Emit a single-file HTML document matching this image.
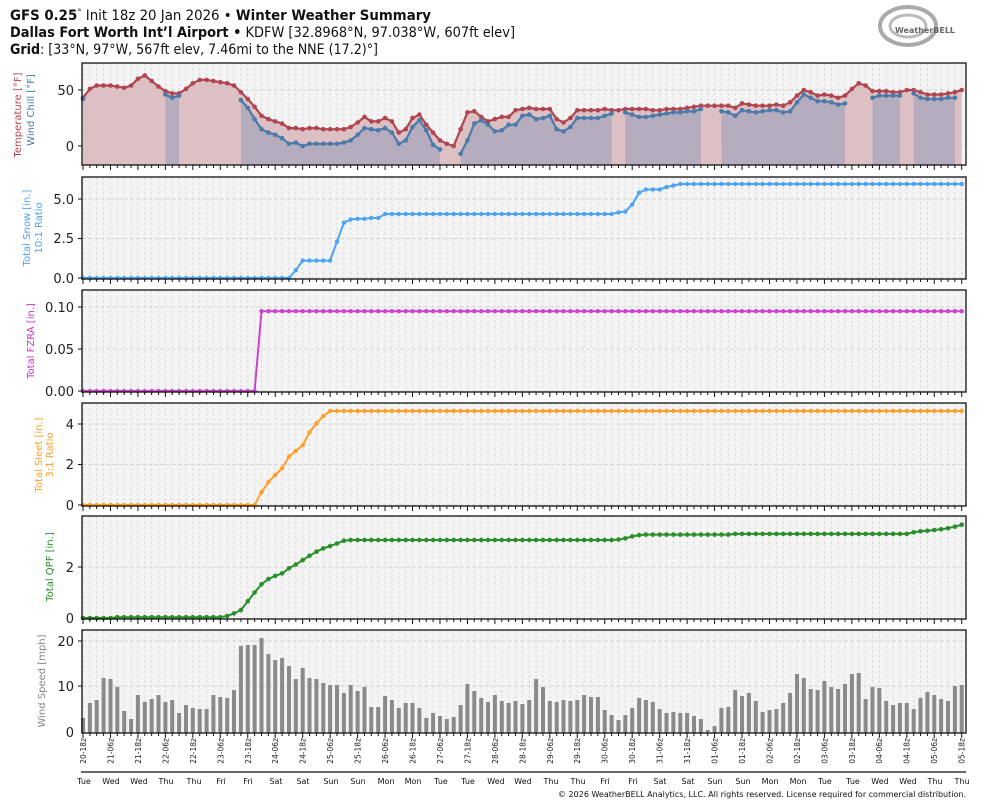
<!DOCTYPE html>
<html><head><meta charset="utf-8"><style>
body{margin:0;background:#fff;}
svg{display:block;font-family:"DejaVu Sans","Liberation Sans",sans-serif;}
</style></head><body>
<svg id="s" width="984" height="808" viewBox="0 0 984 808" xmlns="http://www.w3.org/2000/svg">
<rect width="984" height="808" fill="#fff"/>
<g font-size="14" fill="#111">
<text x="10" y="20" textLength="421" lengthAdjust="spacingAndGlyphs"><tspan font-weight="bold">GFS 0.25</tspan><tspan font-size="9" dy="-5">°</tspan><tspan dy="5"> Init 18z 20 Jan 2026 • </tspan><tspan font-weight="bold">Winter Weather Summary</tspan></text>
<text x="10" y="37" textLength="505" lengthAdjust="spacingAndGlyphs"><tspan font-weight="bold">Dallas Fort Worth Int’l Airport •</tspan> KDFW [32.8968°N, 97.038°W, 607ft elev]</text>
<text x="10" y="54" textLength="368" lengthAdjust="spacingAndGlyphs"><tspan font-weight="bold">Grid</tspan>: [33°N, 97°W, 567ft elev, 7.46mi to the NNE (17.2)°]</text>
</g>
<g>
<ellipse cx="908" cy="26" rx="28" ry="19" fill="none" stroke="#aaa" stroke-width="4"/>
<ellipse cx="908" cy="26" rx="18" ry="11" fill="none" stroke="#bbb" stroke-width="3"/>
<text x="895" y="33" font-size="8" fill="#666" font-weight="bold">WeatherBELL</text>
</g>
<g id="panels"></g>
<g font-size="13" fill="#222" text-anchor="end">
<text x="74" y="95">50</text><text x="74" y="151">0</text>
<text x="74" y="204">5.0</text><text x="74" y="243">2.5</text><text x="74" y="283">0.0</text>
<text x="74" y="312">0.10</text><text x="74" y="354">0.05</text><text x="74" y="396">0.00</text>
<text x="74" y="429">4</text><text x="74" y="469">2</text><text x="74" y="510">0</text>
<text x="74" y="572">2</text><text x="74" y="623">0</text>
<text x="74" y="646">20</text><text x="74" y="691">10</text><text x="74" y="737">0</text>
</g>
<g font-size="10" text-anchor="middle">
<text transform="translate(21,115) rotate(-90)" fill="#b5474f">Temperature [°F]</text>
<text transform="translate(34,110) rotate(-90)" fill="#4a7aaa">Wind Chill [°F]</text>
<text transform="translate(30,228) rotate(-90)" fill="#4da3f5">Total Snow [in.]</text>
<text transform="translate(42,228) rotate(-90)" fill="#4da3f5">10:1 Ratio</text>
<text transform="translate(34,341) rotate(-90)" fill="#cc33cc">Total FZRA [in.]</text>
<text transform="translate(42,455) rotate(-90)" fill="#ff9f2a">Total Sleet [in.]</text>
<text transform="translate(53,455) rotate(-90)" fill="#ff9f2a">3:1 Ratio</text>
<text transform="translate(53,567) rotate(-90)" fill="#2a8f2a">Total QPF [in.]</text>
<text transform="translate(45,681) rotate(-90)" fill="#888">Wind Speed [mph]</text>
</g>
<g id="xl" font-size="7.5" fill="#222" text-anchor="end">
<text transform="translate(86,738) rotate(-90)">20-18z</text>
<text transform="translate(113.5,738) rotate(-90)">21-06z</text>
<text transform="translate(141,738) rotate(-90)">21-18z</text>
<text transform="translate(168.4,738) rotate(-90)">22-06z</text>
<text transform="translate(195.8,738) rotate(-90)">22-18z</text>
<text transform="translate(223.3,738) rotate(-90)">23-06z</text>
<text transform="translate(250.8,738) rotate(-90)">23-18z</text>
<text transform="translate(278.2,738) rotate(-90)">24-06z</text>
<text transform="translate(305.7,738) rotate(-90)">24-18z</text>
<text transform="translate(333.2,738) rotate(-90)">25-06z</text>
<text transform="translate(360.6,738) rotate(-90)">25-18z</text>
<text transform="translate(388,738) rotate(-90)">26-06z</text>
<text transform="translate(415.5,738) rotate(-90)">26-18z</text>
<text transform="translate(443,738) rotate(-90)">27-06z</text>
<text transform="translate(470.4,738) rotate(-90)">27-18z</text>
<text transform="translate(497.9,738) rotate(-90)">28-06z</text>
<text transform="translate(525.3,738) rotate(-90)">28-18z</text>
<text transform="translate(552.8,738) rotate(-90)">29-06z</text>
<text transform="translate(580.2,738) rotate(-90)">29-18z</text>
<text transform="translate(607.7,738) rotate(-90)">30-06z</text>
<text transform="translate(635.1,738) rotate(-90)">30-18z</text>
<text transform="translate(662.6,738) rotate(-90)">31-06z</text>
<text transform="translate(690,738) rotate(-90)">31-18z</text>
<text transform="translate(717.5,738) rotate(-90)">01-06z</text>
<text transform="translate(745,738) rotate(-90)">01-18z</text>
<text transform="translate(772.4,738) rotate(-90)">02-06z</text>
<text transform="translate(799.9,738) rotate(-90)">02-18z</text>
<text transform="translate(827.3,738) rotate(-90)">03-06z</text>
<text transform="translate(854.8,738) rotate(-90)">03-18z</text>
<text transform="translate(882.2,738) rotate(-90)">04-06z</text>
<text transform="translate(909.7,738) rotate(-90)">04-18z</text>
<text transform="translate(937.1,738) rotate(-90)">05-06z</text>
<text transform="translate(964.6,738) rotate(-90)">05-18z</text>
</g>
<line x1="81" y1="772" x2="966" y2="772" stroke="#111" stroke-width="1.2"/>
<g font-size="8" fill="#111" text-anchor="middle">
<text x="84" y="784">Tue</text><text x="111" y="784">Wed</text><text x="139" y="784">Wed</text><text x="166" y="784">Thu</text><text x="194" y="784">Thu</text><text x="221" y="784">Fri</text><text x="248" y="784">Fri</text><text x="276" y="784">Sat</text><text x="303" y="784">Sat</text><text x="331" y="784">Sun</text><text x="358" y="784">Sun</text><text x="386" y="784">Mon</text><text x="413" y="784">Mon</text><text x="441" y="784">Tue</text><text x="468" y="784">Tue</text><text x="496" y="784">Wed</text><text x="523" y="784">Wed</text><text x="551" y="784">Thu</text><text x="578" y="784">Thu</text><text x="605" y="784">Fri</text><text x="633" y="784">Fri</text><text x="660" y="784">Sat</text><text x="688" y="784">Sat</text><text x="715" y="784">Sun</text><text x="743" y="784">Sun</text><text x="770" y="784">Mon</text><text x="798" y="784">Mon</text><text x="825" y="784">Tue</text><text x="853" y="784">Tue</text><text x="880" y="784">Wed</text><text x="908" y="784">Wed</text><text x="935" y="784">Thu</text><text x="962" y="784">Thu</text>
</g>
<text x="966" y="797" font-size="8" fill="#111" text-anchor="end">© 2026 WeatherBELL Analytics, LLC. All rights reserved. License required for commercial distribution.</text>
</svg>
<script>
(function(){
var NS="http://www.w3.org/2000/svg",G=document.getElementById("panels");
function el(t,a){var e=document.createElementNS(NS,t);for(var k in a)e.setAttribute(k,a[k]);G.appendChild(e);return e;}
function X(i){return 83+6.865*i;}
var panels=[[63,165,[90,146]],[177,279,[199,238.5,278]],[290,392,[307,349,391]],[403,506,[424,464.5,505]],[516,619,[567]],[630,733,[641,686]]];
panels.forEach(function(p){
 el("rect",{x:82,y:p[0],width:884,height:p[1]-p[0],fill:"#f4f4f4"});
 for(var i=0;i<=128;i++){el("line",{x1:X(i),y1:p[0],x2:X(i),y2:p[1],stroke:"#dcdcdc","stroke-width":1,"stroke-dasharray":"3,2"});}
 p[2].forEach(function(y){el("line",{x1:82,y1:y,x2:966,y2:y,stroke:"#d6d6d6","stroke-width":1,"stroke-dasharray":"4,2"});});
});
var T=[43,51,54,54,54,53,52,54,60,63,58,53,49,47,47,51,56,59,59,58,57,56,54,48,42,35,27,24,22,20,16,16,15,16,16,15,15,15,15,17,21,26,22,22,25,22,12,15,25,28,19,12,5,2,0,15,30,31,26,22,24,26,26,32,33,34,33,33,33,24,21,25,32,32,32,32,33,32,32,33,33,33,33,32,32,33,33,33,34,35,36,36,36,36,36,34,38,37,36,36,36,37,36,39,45,50,48,45,46,45,43,45,51,56,54,49,49,49,48,48,50,50,48,46,46,46,47,48,50];
var W=new Array(129).fill(null);
function setW(s,a){a.forEach(function(v,k){W[s+k]=v;});}
setW(0,[42]);setW(12,[46,43,45]);
setW(23,[41,34,24,15,12,10,7,2,3,0,2,2,2,2,2,3,5,10,16,15,14,16,12,2,5,17,23,14,1,-3]);
setW(55,[-7,5,20,23,19,13,14,19,19,27,28,24,25,27,15,13,17,25,25,25,25,27,29]);
setW(79,[30,28,26,26,27,28,29,30,30,31,31,33]);
setW(93,[31,30,27,32,31,30,31,32,32,30,31,39,46,43,40,40,39,37,38]);
setW(115,[43,45,45,45,45]);setW(121,[47,43,42,42,42,43,43]);
function ty(v){return 146-1.12*v;}
// temp fill
var d="M"+X(0)+",165";T.forEach(function(v,i){d+=" L"+X(i).toFixed(1)+","+ty(v).toFixed(1);});d+=" L"+X(128)+",165Z";
el("path",{d:d,fill:"#dcc0c4"});
// wc fill segments
var segs=[],cur=null;W.forEach(function(v,i){if(v!==null){if(!cur){cur=[];segs.push(cur);}cur.push(i);}else cur=null;});
segs.forEach(function(s){if(s.length<2)return;var d="M"+X(s[0])+",165";s.forEach(function(i){d+=" L"+X(i).toFixed(1)+","+ty(W[i]).toFixed(1);});d+=" L"+X(s[s.length-1])+",165Z";el("path",{d:d,fill:"#b5acbd"});});
function line(vals,f,col,lw,r){
 var ss=[],c=null;vals.forEach(function(v,i){if(v!==null){if(!c){c=[];ss.push(c);}c.push(i);}else c=null;});
 ss.forEach(function(s){var d="";s.forEach(function(i,k){d+=(k?" L":"M")+X(i).toFixed(1)+","+f(vals[i]).toFixed(1);});el("path",{d:d,fill:"none",stroke:col,"stroke-width":lw,"stroke-linejoin":"round"});});
 vals.forEach(function(v,i){if(v!==null)el("circle",{cx:X(i).toFixed(1),cy:f(v).toFixed(1),r:r,fill:col});});
}
line(T,ty,"#b04550",2.2,2.3);
line(W,ty,"#4a7aaa",2.2,2.3);
// snow
var S=[];for(var i=0;i<129;i++){var v=0;if(i==31)v=.5;else if(i>=32&&i<=36)v=1.1;else if(i==37)v=2.3;else if(i==38)v=3.5;else if(i==39)v=3.7;else if(i<=41&&i>39)v=3.75;else if(i>=42&&i<=43)v=3.8;else if(i>=44&&i<=77)v=4.05;else if(i==78)v=4.15;else if(i==79)v=4.2;else if(i==80)v=4.65;else if(i==81)v=5.4;else if(i>=82&&i<=84)v=5.6;else if(i==85)v=5.75;else if(i==86)v=5.85;else if(i>=87)v=5.95;S.push(v);}
line(S,function(v){return 278-15.8*v;},"#4da3f5",2,2.2);
var F=[];for(i=0;i<129;i++)F.push(i<26?0:0.095);
line(F,function(v){return 391-840*v;},"#cc44cc",2,2.2);
var SL=[.63,1.13,1.48,1.81,2.39,2.67,2.96,3.59,4.03,4.39,4.64];var P=[];for(i=0;i<129;i++)P.push(i<26?0:(i<=36?SL[i-26]:4.64));
line(P,function(v){return 505-20.25*v;},"#ff9f2a",2,2.2);
var Qr=[0.03,0.08,0.18,0.31,0.66,1.0,1.32,1.53,1.65,1.75,1.95,2.1,2.27,2.44,2.6,2.73,2.82,2.92,3.03];var Qe=[3.36,3.4,3.42,3.45,3.48,3.52,3.58,3.66];var Q=[];
for(i=0;i<129;i++){var q;if(i<5)q=0;else if(i<20)q=0.03;else if(i<=38)q=Qr[i-20];else if(i<=77)q=3.06;else if(i==78)q=3.08;else if(i==79)q=3.12;else if(i==80)q=3.2;else if(i==81)q=3.25;else if(i<=94)q=3.27;else if(i<=120)q=3.3;else q=Qe[i-121];Q.push(q);}
line(Q,function(v){return 618-25.5*v;},"#2a8f2a",2,2.3);
// wind bars
var B=[264,219,210,144,147,171,243,267,195,216,207,195,216,210,249,225,234,237,237,195,201,204,180,48,45,45,24,72,90,84,108,147,114,144,147,159,165,165,189,165,183,171,231,231,198,210,234,219,219,234,264,249,258,267,261,225,162,183,204,216,195,213,219,213,
222,210,147,171,213,216,210,213,210,195,201,201,240,255,270,255,234,204,210,216,237,249,246,249,249,258,267,300,288,234,231,180,198,189,213,246,240,237,219,189,132,144,177,180,153,171,177,162,132,129,207,171,174,213,225,219,219,237,204,186,195,207,213,168,165];
B.forEach(function(z,i){var t=630+z/3;el("rect",{x:(X(i)-2).toFixed(1),y:t.toFixed(1),width:4,height:(733-t).toFixed(1),fill:"#8a8a8a"});});
// frames and ticks
panels.forEach(function(p){
 el("rect",{x:82,y:p[0],width:884,height:p[1]-p[0],fill:"none",stroke:"#111","stroke-width":1.3});
 for(var i=0;i<=128;i++){el("line",{x1:X(i),y1:p[1],x2:X(i),y2:p[1]+(i%4==0?5:3),stroke:"#111","stroke-width":1});}
 p[2].forEach(function(y){el("line",{x1:78,y1:y,x2:82,y2:y,stroke:"#111","stroke-width":1});});
});
})();
</script>
</body></html>
